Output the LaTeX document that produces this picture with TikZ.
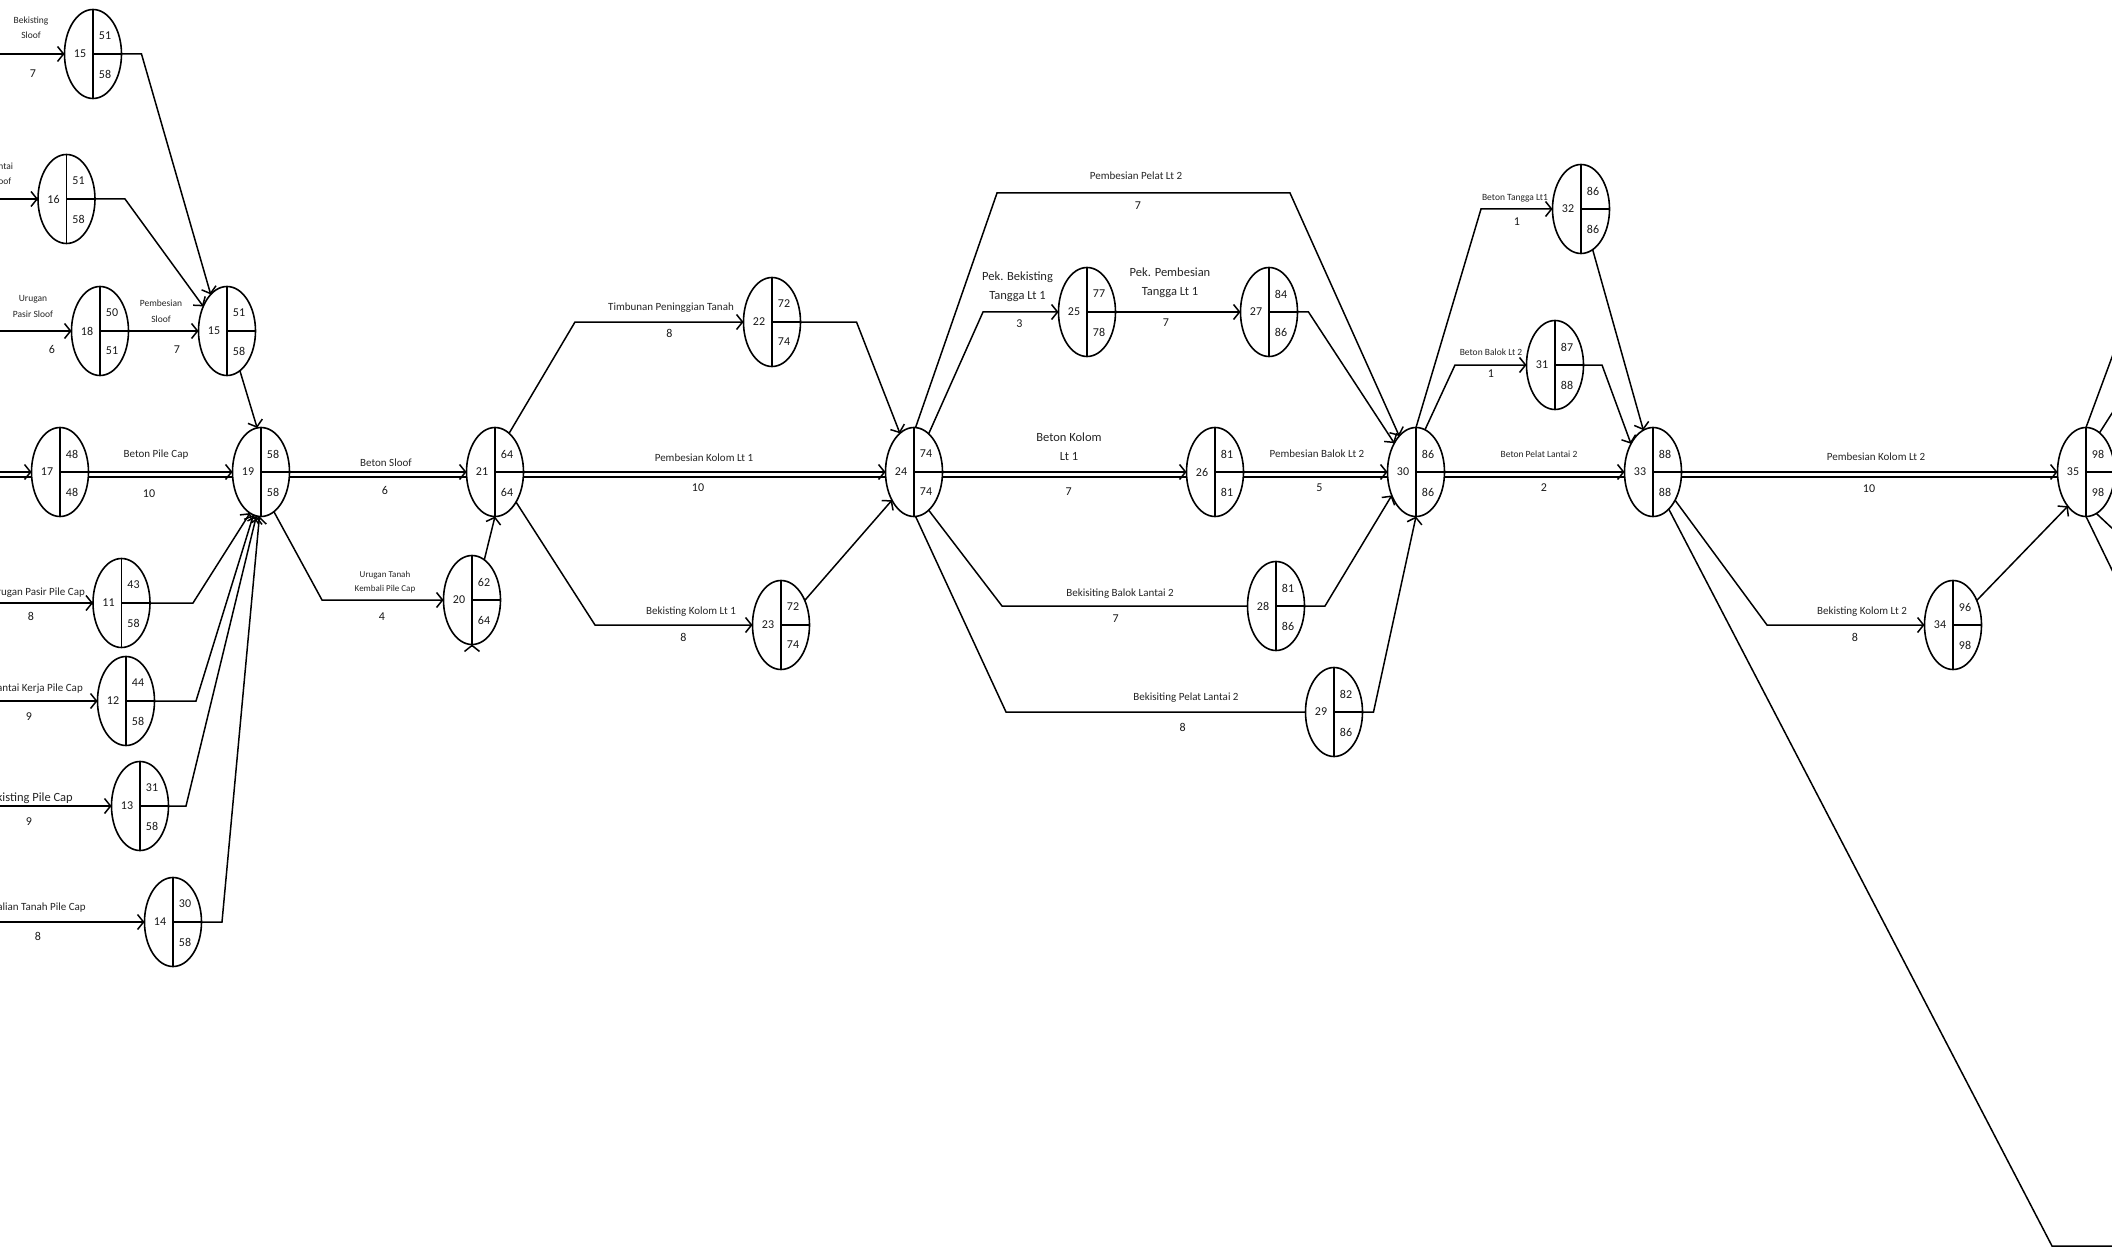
\documentclass[tikz,border=0pt]{standalone}
\usepackage{fontspec}
\setmainfont{Carlito}
\usetikzlibrary{shapes.geometric,arrows.meta}

\tikzset{
  ev/.style={ellipse, draw=black, line width=1.6pt, minimum width=57pt, minimum height=89pt, inner sep=0pt, outer sep=0pt},
  evdiv/.style={line width=1.5pt},
  evnum/.style={font=\fontsize{12}{14}\selectfont, inner sep=0pt, text=black!90},
  cn/.style={line width=1.5pt},
  arr/.style={cn, -{Straight Barb[length=6pt,width=15pt]}},
  lbltiny/.style={font=\fontsize{9.5}{15.5}\selectfont, align=center, inner sep=0pt, text=black!85},
  lblsmall/.style={font=\fontsize{11}{14}\selectfont, inner sep=0pt, text=black!85},
  lblmed/.style={font=\fontsize{12.5}{19.3}\selectfont, align=center, inner sep=0pt, text=black!85},
  dur/.style={font=\fontsize{12}{14}\selectfont, inner sep=0pt, text=black!90},
}

% event node: name, x, y, number, top value, bottom value
\newcommand\evn[6]{%
  \node[ev] (#1) at (#2,#3) {};
  \draw[evdiv] (#1.north) -- (#1.south);
  \draw[evdiv] (#1.center) -- (#1.east);
  \node[evnum] at ([shift={(-13,0)}]#1.center) {#4};
  \node[evnum] at ([shift={(12,-18)}]#1.center) {#5};
  \node[evnum] at ([shift={(12,20)}]#1.center) {#6};
}
% critical (double) connector
\newcommand\dblcn[2]{%
  \draw[arr] (#1.east) -- (#2.west);
  \draw[cn] ([yshift=-5pt]#1.east) -- ([yshift=-5pt]#2.west);
}

\begin{document}
\begin{tikzpicture}[x=1pt,y=-1pt]
\useasboundingbox (0,0) rectangle (2112,1249);
\fill[white] (0,0) rectangle (2112,1249);
\clip (0,0) rectangle (2112,1249);

% ---------- events ----------
\evn{a15}{93}{54}{15}{51}{58}
\evn{n16}{66.5}{199}{16}{51}{58}
\evn{n18}{100}{331}{18}{50}{51}
\evn{b15}{227}{331}{15}{51}{58}
\evn{n17}{60}{472}{17}{48}{48}
\evn{n19}{261}{472}{19}{58}{58}
\evn{n11}{121.5}{603}{11}{43}{58}
\evn{n12}{126}{701}{12}{44}{58}
\evn{n13}{140}{806}{13}{31}{58}
\evn{n14}{173}{922}{14}{30}{58}
\evn{n20}{472}{600}{20}{62}{64}
\evn{n21}{495}{472}{21}{64}{64}
\evn{n22}{772}{322}{22}{72}{74}
\evn{n23}{781}{625}{23}{72}{74}
\evn{n24}{914}{472}{24}{74}{74}
\evn{n25}{1087}{312}{25}{77}{78}
\evn{n27}{1269}{312}{27}{84}{86}
\evn{n26}{1215}{472}{26}{81}{81}
\evn{n28}{1276}{606}{28}{81}{86}
\evn{n29}{1334}{712}{29}{82}{86}
\evn{n30}{1416}{472}{30}{86}{86}
\evn{n32}{1581}{209}{32}{86}{86}
\evn{n31}{1555}{365}{31}{87}{88}
\evn{n33}{1653}{472}{33}{88}{88}
\evn{n34}{1953}{625}{34}{96}{98}
\evn{n35}{2086}{472}{35}{98}{98}

% ---------- free ends ----------
\coordinate (s15) at (0,54);
\coordinate (s16) at (0,199);
\coordinate (s18) at (0,331);
\coordinate (s17) at (0,472);
\coordinate (s17b) at (0,477);
\coordinate (s11) at (0,603);
\coordinate (s12) at (0,701);
\coordinate (s13) at (0,806);
\coordinate (s14) at (0,922);
\coordinate (o1) at (2122,330);
\coordinate (o2) at (2130,385);
\coordinate (o3) at (2130,545);
\coordinate (o4) at (2130,607);
\coordinate (o5) at (2130,1246);

% ---------- connectors ----------
\draw[arr] (s15) -- (a15.west);
\draw[arr] (s16) -- (n16.west);
\draw[arr] (s18) -- (n18.west);
\draw[arr] (n18.east) -- (b15.west);
\draw[arr] (a15.east) -- ++(20,0) -- (b15.114);
\draw[arr] (n16.east) -- ++(30,0) -- (b15.134);
\draw[arr] (b15.-72) -- (n19.95);

\draw[arr] (s17) -- (n17.west);
\draw[cn] (s17b) -- ([yshift=-5pt]n17.west);
\dblcn{n17}{n19}

\draw[arr] (s11) -- (n11.west);
\draw[arr] (s12) -- (n12.west);
\draw[arr] (s13) -- (n13.west);
\draw[arr] (s14) -- (n14.west);
\draw[arr] (n11.east) -- ++(43,0) -- (n19.255);
\draw[arr] (n12.east) -- ++(41.5,0) -- (n19.260);
\draw[arr] (n13.east) -- ++(17.5,0) -- (n19.264);
\draw[arr] (n14.east) -- ++(20.5,0) -- (n19.268);

\dblcn{n19}{n21}
\draw[arr] (n19.-72) -- (322,0 |- n20.west) -- (n20.west);
\draw[arr] (n20.73) -- (n21.south);
\draw[arr] ([yshift=-1pt]n20.south) -- (n20.south);

\draw[arr] (n21.70) -- (575,0 |- n22.west) -- (n22.west);
\dblcn{n21}{n24}
\draw[arr] (n21.-55) -- (595,0 |- n23.west) -- (n23.west);
\draw[arr] (n22.east) -- ++(56,0) -- (n24.110);
\draw[arr] (n23.46) -- (n24.232);

\draw[arr] (n24.88) -- (997,193) -- (1290,193) -- (n30.115);
\draw[arr] (n24.69) -- (983,0 |- n25.west) -- (n25.west);
\draw[arr] (n25.east) -- (n27.west);
\draw[arr] (n27.east) -- ++(11,0) -- (n30.127);
\dblcn{n24}{n26}
\dblcn{n26}{n30}
\draw[cn] (n24.-69) -- (1002,0 |- n28.west) -- (n28.west);
\draw[cn] (n24.-88) -- (1006,0 |- n29.west) -- (n29.west);
\draw[arr] (n28.east) -- ++(20.5,0) -- (n30.224);
\draw[arr] (n29.east) -- ++(11,0) -- (n30.south);

\draw[arr] (n30.north) -- (1481,0 |- n32.west) -- (n32.west);
\draw[arr] (n30.78) -- (1455,0 |- n31.west) -- (n31.west);
\dblcn{n30}{n33}
\draw[arr] (n32.-74) -- (n33.103);
\draw[arr] (n31.east) -- ++(18.5,0) -- (n33.128);

\dblcn{n33}{n35}
\draw[arr] (n33.-52) -- (1767,0 |- n34.west) -- (n34.west);
\draw[arr] (n34.46) -- (n35.242);
\draw[cn] (n33.-67) -- (2052,1246) -- (o5);

\draw[cn] (n35.north) -- (o1);
\draw[cn] (n35.71) -- (o2);
\draw[cn] (n35.-76) -- (o3);
\draw[cn] (n35.south) -- (o4);

% ---------- labels ----------
\node[lbltiny] (t1) at (31,27.5) {Bekisting\\Sloof};
\node[lbltiny] (t2) at (1.5,174) {Lantai\\Sloof};
\node[lbltiny] (t3) at (33,306.5) {Urugan\\Pasir Sloof};
\node[lbltiny] (t4) at (161,311) {Pembesian\\Sloof};
\node[lbltiny, font=\fontsize{9}{14}\selectfont] (t5) at (385,582) {Urugan Tanah\\Kembali Pile Cap};
\node[lbltiny] (t6) at (1515,198) {Beton Tangga Lt1};
\node[lbltiny] (t7) at (1491,352) {Beton Balok Lt 2};
\node[lbltiny] (t8) at (1539,454) {Beton Pelat Lantai 2};

\node[lblsmall] (t9) at (156,455) {Beton Pile Cap};
\node[lblsmall] (t10) at (386,463) {Beton Sloof};
\node[lblsmall] (t11) at (671,308) {Timbunan Peninggian Tanah};
\node[lblsmall] (t12) at (704,458) {Pembesian Kolom Lt 1};
\node[lblsmall] (t13) at (691,612) {Bekisting Kolom Lt 1};
\node[lblsmall] (t14) at (1136,176) {Pembesian Pelat Lt 2};
\node[lblsmall] (t15) at (1317,454) {Pembesian Balok Lt 2};
\node[lblsmall] (t16) at (1120,594) {Bekisiting Balok Lantai 2};
\node[lblsmall] (t17) at (1186,698) {Bekisiting Pelat Lantai 2};
\node[lblsmall] (t18) at (1876,457) {Pembesian Kolom Lt 2};
\node[lblsmall] (t19) at (1862,612) {Bekisting Kolom Lt 2};
\node[lblsmall, anchor=east] (t20) at (85,593) {Urugan Pasir Pile Cap};
\node[lblsmall, anchor=east] (t21) at (83,689) {Lantai Kerja Pile Cap};
\node[lblsmall, anchor=east] (t22) at (86,908) {Galian Tanah Pile Cap};

\node[lblmed] (t23) at (1017.5,286.5) {Pek. Bekisting\\Tangga Lt 1};
\node[lblmed] (t24) at (1170,283) {Pek. Pembesian\\Tangga Lt 1};
\node[lblmed] (t25) at (1069,446.5) {Beton Kolom\\Lt 1};
\node[lblmed, anchor=east] (t26) at (73,798) {Bekisting Pile Cap};

% ---------- durations ----------
\node[dur] (d1) at (33,74) {7};
\node[dur] (d2) at (52,349) {6};
\node[dur] (d3) at (177,350) {7};
\node[dur] (d4) at (149,494) {10};
\node[dur] (d5) at (31,616) {8};
\node[dur] (d6) at (29,717) {9};
\node[dur] (d7) at (29,822) {9};
\node[dur] (d8) at (38,936) {8};
\node[dur] (d9) at (385,490) {6};
\node[dur] (d10) at (382,617) {4};
\node[dur] (d11) at (669.5,333) {8};
\node[dur] (d12) at (698,488) {10};
\node[dur] (d13) at (683.5,637) {8};
\node[dur] (d14) at (1138,206) {7};
\node[dur] (d15) at (1019.5,324) {3};
\node[dur] (d16) at (1166,323) {7};
\node[dur] (d17) at (1068.6,492) {7};
\node[dur] (d18) at (1319.5,488) {5};
\node[dur] (d19) at (1115.6,619) {7};
\node[dur] (d20) at (1182.6,727) {8};
\node[dur] (d21) at (1517,222) {1};
\node[dur] (d22) at (1491,374) {1};
\node[dur] (d23) at (1544,488) {2};
\node[dur] (d24) at (1869,489) {10};
\node[dur] (d25) at (1855,637) {8};
\end{tikzpicture}
\end{document}
